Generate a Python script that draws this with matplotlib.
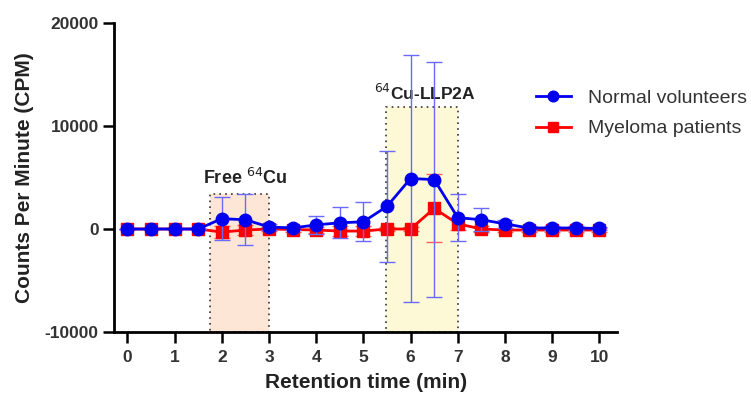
import matplotlib
matplotlib.use("Agg")
import matplotlib.pyplot as plt
from matplotlib.patches import Rectangle

time = [0, 0.5, 1, 1.5, 2, 2.5, 3, 3.5, 4, 4.5, 5, 5.5, 6, 6.5, 7, 7.5, 8, 8.5, 9, 9.5, 10]
normal = [0, 0, 0, 0, 1000, 900, 200, 100, 400, 600, 700, 2200, 4900, 4800, 1100, 900, 500, 100, 100, 100, 50]
normal_err = [0, 0, 0, 0, 2100, 2500, 300, 200, 900, 1500, 1900, 5400, 12000, 11400, 2300, 1100, 400, 200, 200, 200, 100]
myeloma = [0, 0, 0, 0, -300, -100, 0, -50, -100, -200, -200, 0, 0, 2000, 500, 0, -100, -100, -100, -100, -100]
myeloma_err = [0, 0, 0, 0, 600, 500, 200, 200, 300, 500, 500, 200, 200, 3300, 600, 300, 200, 200, 200, 200, 200]
xticks = list(range(0, 11))
yticks = [-10000, 0, 10000, 20000]
free_box = (1.75, 3.0, 3400)
llp_box = (5.47, 7.0, 11800)

plt.rcParams['font.family'] = ['Liberation Sans', 'DejaVu Sans']
fig = plt.figure(figsize=(7.51, 4.0), dpi=100)
ax = fig.add_axes([0.152, 0.17, 0.670, 0.7725])

ax.set_xlim(-0.28, 10.38)
ax.set_ylim(-10000, 20000)

# shaded boxes
for (x0, x1, ytop), fc in [(free_box, '#fde6d6'), (llp_box, '#fdf8d6')]:
    ax.add_patch(Rectangle((x0, -10000), x1 - x0, ytop + 10000, facecolor=fc,
                           edgecolor='#333333', linestyle=(0, (1, 2.5)), linewidth=1.2, zorder=0))

ax.text(2.5, 4000, r'Free $^{64}$Cu', ha='center', va='bottom', fontsize=13,
        fontweight='bold', color='#222222')
ax.text(6.3, 12200, r'$^{64}$Cu-LLP2A', ha='center', va='bottom', fontsize=12.5,
        fontweight='bold', color='#222222')

eb_m = ax.errorbar(time, myeloma, yerr=myeloma_err, color='#ff0000', ecolor='#ff6060',
                   elinewidth=1.0, capsize=6, capthick=1.0, marker='s', markersize=8,
                   linewidth=2, label='Myeloma patients', zorder=3)
eb_n = ax.errorbar(time, normal, yerr=normal_err, color='#0000ee', ecolor='#6a6aff',
                   elinewidth=1.0, capsize=6, capthick=1.0, marker='o', markersize=9,
                   linewidth=2, label='Normal volunteers', zorder=4)

leg = fig.legend([eb_n[0], eb_m[0]], ['Normal volunteers', 'Myeloma patients'],
                 loc='upper left', bbox_to_anchor=(0.69, 0.82),
                 frameon=False, fontsize=14, handlelength=1.8, labelspacing=0.65,
                 handletextpad=0.9, markerscale=0.85)
for t in leg.get_texts():
    t.set_color('#333333')

ax.set_xticks(xticks)
ax.set_yticks(yticks)
ax.set_xticklabels([str(v) for v in xticks])
ax.set_yticklabels([str(v) for v in yticks])
for lab in ax.get_xticklabels() + ax.get_yticklabels():
    lab.set_fontweight('bold')
    lab.set_color('#333333')
ax.tick_params(axis='both', labelsize=12.5, width=1.8, length=8, direction='out')
ax.tick_params(axis='x', pad=5)
ax.tick_params(axis='y', pad=3)

for s in ['top', 'right']:
    ax.spines[s].set_visible(False)
for s in ['left', 'bottom']:
    ax.spines[s].set_linewidth(2)

ax.set_xlabel('Retention time (min)', fontsize=15, fontweight='bold', color='#222222', labelpad=6)
ax.set_ylabel('Counts Per Minute (CPM)', fontsize=15, fontweight='bold', color='#222222', labelpad=8)

fig.savefig('out.png', dpi=100)
